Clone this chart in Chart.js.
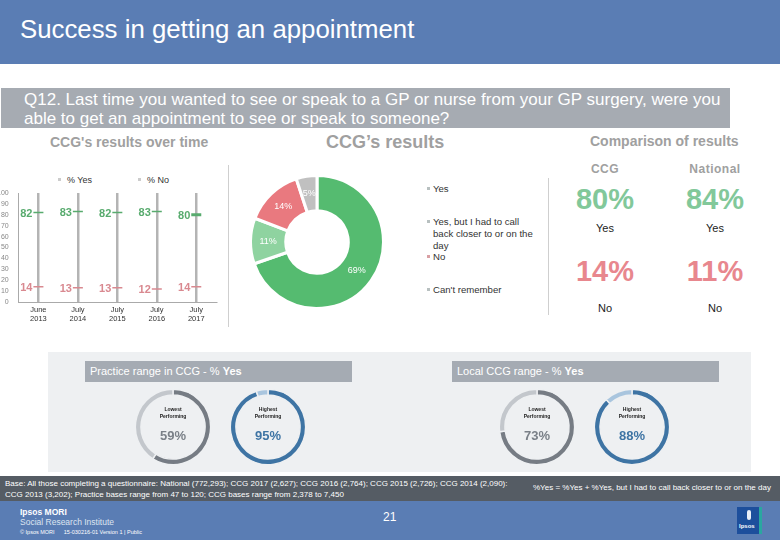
<!DOCTYPE html>
<html>
<head>
<meta charset="utf-8">
<script src="https://cdn.jsdelivr.net/npm/chart.js@4.4.1/dist/chart.umd.min.js"></script>
<style>
  body { margin: 0; width: 780px; height: 540px; position: relative; overflow: hidden; background: #fff; font-family: "Liberation Sans", Arial, sans-serif; }
  .abs { position: absolute; }
  #header { left: 0; top: 0; width: 780px; height: 64px; background: #5a7db4; }
  #title { left: 20px; top: 15px; color: #fff; font-size: 25.8px; }
  #question { left: 1px; top: 88px; width: 729px; height: 40px; background: #a6abb2; color: #fff; font-size: 17px; line-height: 19px; white-space: nowrap; }
  #question div { padding: 2px 0 0 23px; }
  .sec { color: #a0a0a0; font-weight: bold; white-space: nowrap; }
  .sep { background: #cfcfcf; width: 1px; }
  .leg { font-size: 9.6px; color: #333; line-height: 12px; }
  .leg i { position: absolute; left: -6px; top: 4px; width: 3px; height: 3px; }
  .colhead { font-size: 12px; color: #a0a0a0; font-weight: bold; letter-spacing: 0.5px; text-align: center; width: 100px; }
  .big { font-size: 29px; font-weight: bold; text-align: center; width: 100px; }
  .small { font-size: 11px; color: #222; text-align: center; width: 100px; }
  #panel { left: 48px; top: 352px; width: 703px; height: 120px; background: #eef0f2; }
  .bar { height: 21px; background: #a5abb3; color: #fff; font-size: 11px; line-height: 21px; padding-left: 5px; box-sizing: border-box; }
  .gauge { width: 80px; height: 80px; }
  .gtxt { width: 80px; text-align: center; }
  .gtxt .cap { font-size: 5px; font-weight: bold; color: #222; line-height: 7px; }
  .gtxt .pct { font-size: 13px; font-weight: bold; margin-top: 8px; }
  #base { left: 0; top: 476px; width: 780px; height: 25px; background: #555c64; }
  .foot { color: #fff; font-size: 8px; white-space: nowrap; }
  #band { left: 0; top: 501px; width: 780px; height: 39px; background: #5a7db4; }
</style>
</head>
<body>
<div id="header" class="abs"></div>
<div id="title" class="abs">Success in getting an appointment</div>
<div id="question" class="abs"><div>Q12. Last time you wanted to see or speak to a GP or nurse from your GP surgery, were you<br>able to get an appointment to see or speak to someone?</div></div>

<div class="abs sec" style="left:50px; top:134px; font-size:14px;">CCG's results over time</div>
<div class="abs sec" style="left:326px; top:132px; font-size:18px;">CCG’s results</div>
<div class="abs sec" style="left:590px; top:133px; font-size:14px;">Comparison of results</div>

<div class="abs sep" style="left:228px; top:165px; height:162px;"></div>
<div class="abs sep" style="left:548px; top:178px; height:137px;"></div>

<div id="trendLegend"></div>
<canvas id="trendChart" class="abs" width="230" height="162" style="left:-5px; top:166px; width:230px; height:162px;"></canvas>
<canvas id="donutChart" class="abs" width="136" height="136" style="left:249px; top:174px; width:136px; height:136px;"></canvas>
<div id="donutLegend"></div>
<div id="compare"></div>

<div id="panel" class="abs"></div>
<div class="abs bar" style="left:85px; top:361px; width:267px;">Practice range in CCG - % <b>Yes</b></div>
<div class="abs bar" style="left:452px; top:361px; width:267px;">Local CCG range - % <b>Yes</b></div>
<div id="gauges"></div>

<div id="base" class="abs"></div>
<div class="abs foot" style="left:5px; top:478px; line-height:11px;">Base: All those completing a questionnaire: National (772,293); CCG 2017 (2,627); CCG 2016 (2,764); CCG 2015 (2,726); CCG 2014 (2,090):<br>CCG 2013 (3,202); Practice bases range from 47 to 120; CCG bases range from 2,378 to 7,450</div>
<div class="abs foot" style="left:533px; top:483px;">%Yes = %Yes + %Yes, but I had to call back closer to or on the day</div>
<div id="band" class="abs"></div>
<div class="abs" style="left:20px; top:507px; color:#fff; font-size:8.5px; font-weight:bold;">Ipsos MORI</div>
<div class="abs" style="left:20px; top:517px; color:#dde4f0; font-size:8.5px;">Social Research Institute</div>
<div class="abs foot" style="left:20px; top:529px; font-size:5.5px;">© Ipsos MORI &nbsp;&nbsp;&nbsp;&nbsp; 15-030216-01 Version 1 | Public</div>
<div class="abs" style="left:383px; top:510px; color:#fff; font-size:12px;">21</div>
<div class="abs" style="left:737px; top:507px; width:25px; height:27px; background:#1d4f9c; border-right:3px solid #2aa7a0; box-sizing:border-box;">
  <div style="position:absolute; left:10px; top:3px; width:4px; height:10px; border-radius:2px; background:#e8eef8;"></div>
  <div style="position:absolute; left:2px; top:16px; color:#fff; font-size:6px; font-weight:bold;">Ipsos</div>
</div>

<script>
// Chart values
var waveLabels = [["June", "2013"], ["July", "2014"], ["July", "2015"], ["July", "2016"], ["July", "2017"]];
var yesOverTime = [82, 83, 82, 83, 80];
var noOverTime = [14, 13, 13, 12, 14];

var donutLabels = ["Yes", "Yes, but I had to call back closer to or on the day", "No", "Can't remember"];
var donutValues = [69, 11, 14, 5];

var compareColumns = ["CCG", "National"];
var compareYes = [80, 84];
var compareNo = [14, 11];

var practiceRange = [59, 95];
var localRange = [73, 88];

var GREEN = "#58ab6e";
var PINK = "#d98990";
var donutColours = ["#55bb70", "#8fd3a0", "#e9797f", "#c0c0c0"];

// Value labels to the left of each marker
var pointLabels = {
    id: "pointLabels",
    afterDatasetsDraw: function (chart) {
        var ctx = chart.ctx;
        ctx.save();
        ctx.font = "bold 11px 'Liberation Sans', Arial";
        ctx.textAlign = "right";
        ctx.textBaseline = "middle";
        chart.data.datasets.forEach(function (ds, i) {
            ctx.fillStyle = ds.borderColor;
            chart.getDatasetMeta(i).data.forEach(function (pt, j) {
                ctx.fillText(ds.data[j], pt.x - 6, pt.y + 1);
            });
        });
        ctx.restore();
    }
};

// Percent labels inside donut slices
var sliceLabels = {
    id: "sliceLabels",
    afterDatasetsDraw: function (chart) {
        var ctx = chart.ctx;
        ctx.save();
        ctx.font = "9px 'Liberation Sans', Arial";
        ctx.fillStyle = "#fff";
        ctx.textAlign = "center";
        ctx.textBaseline = "middle";
        chart.getDatasetMeta(0).data.forEach(function (arc, i) {
            var p = arc.tooltipPosition();
            ctx.fillText(chart.data.datasets[0].data[i] + "%", p.x, p.y);
        });
        ctx.restore();
    }
};

function initializeTrendChart() {
    var ctx = document.getElementById("trendChart").getContext("2d");
    var chart = new Chart(ctx, {
        type: "line",
        data: {
            labels: waveLabels,
            datasets: [
                { label: "% Yes", data: yesOverTime, borderColor: GREEN, backgroundColor: GREEN, showLine: false,
                  pointStyle: "line", pointRadius: 5, pointBorderWidth: [1.5, 1.5, 1.5, 1.5, 3] },
                { label: "% No", data: noOverTime, borderColor: PINK, backgroundColor: PINK, showLine: false,
                  pointStyle: "line", pointRadius: 5, pointBorderWidth: 1.5 }
            ]
        },
        options: {
            responsive: false,
            animation: false,
            layout: { padding: { left: 0, right: 9, top: 27, bottom: 2 } },
            plugins: { tooltip: { enabled: false }, legend: { display: false } },
            scales: {
                y: {
                    min: 0, max: 100,
                    ticks: { stepSize: 10, autoSkip: false, color: "#888", font: { size: 7 }, padding: 2 },
                    grid: { display: false },
                    border: { color: "#aaa" }
                },
                x: {
                    offset: true,
                    ticks: { color: "#333", font: { size: 7.5 }, maxRotation: 0, padding: 3 },
                    grid: { color: "#b4b4b4", lineWidth: 2.5, offset: false, drawTicks: false },
                    border: { color: "#aaa" }
                }
            }
        },
        plugins: [pointLabels]
    });

    // small legend above the plot, built from the dataset labels
    var lefts = [67, 147];
    var html = "";
    chart.data.datasets.forEach(function (ds, i) {
        html += '<div class="abs leg" style="left:' + lefts[i] + 'px; top:174px; font-size:9px; white-space:nowrap;"><i style="background:#ccc; left:-9px;"></i>' + ds.label + "</div>";
    });
    document.getElementById("trendLegend").innerHTML = html;
}

function initializeDonut() {
    var ctx = document.getElementById("donutChart").getContext("2d");
    new Chart(ctx, {
        type: "doughnut",
        data: {
            labels: donutLabels,
            datasets: [{ data: donutValues, backgroundColor: donutColours, borderColor: "#fff", borderWidth: 3 }]
        },
        options: {
            responsive: false,
            animation: false,
            cutout: "47%",
            plugins: { legend: { display: false }, tooltip: { enabled: false } }
        },
        plugins: [sliceLabels]
    });

    // legend beside the donut
    var tops = [183, 216, 251, 284];
    var html = "";
    donutLabels.forEach(function (label, i) {
        html += '<div class="abs leg" style="left:433px; top:' + tops[i] + 'px; width:108px;"><i style="background:' +
            (i === 2 ? "#d9a0a4" : "#b8c0c0") + '"></i>' + label + "</div>";
    });
    document.getElementById("donutLegend").innerHTML = html;
}

function buildComparison() {
    var centres = [605, 715];
    var html = "";
    compareColumns.forEach(function (col, i) {
        var left = centres[i] - 50;
        html += '<div class="abs colhead" style="left:' + left + 'px; top:162px;">' + col + "</div>";
        html += '<div class="abs big" style="left:' + left + 'px; top:183px; color:#82c89a;">' + compareYes[i] + "%</div>";
        html += '<div class="abs small" style="left:' + left + 'px; top:222px;">Yes</div>';
        html += '<div class="abs big" style="left:' + left + 'px; top:255px; color:#e8878e;">' + compareNo[i] + "%</div>";
        html += '<div class="abs small" style="left:' + left + 'px; top:302px;">No</div>';
    });
    document.getElementById("compare").innerHTML = html;
}

function buildGauges() {
    var gauges = [
        { value: practiceRange[0], cx: 173, dark: "#767c84", light: "#c3c7cc", caption: ["Lowest", "Performing"] },
        { value: practiceRange[1], cx: 268, dark: "#3e74a4", light: "#a9c5de", caption: ["Highest", "Performing"] },
        { value: localRange[0], cx: 537, dark: "#767c84", light: "#c3c7cc", caption: ["Lowest", "Performing"] },
        { value: localRange[1], cx: 632, dark: "#3e74a4", light: "#a9c5de", caption: ["Highest", "Performing"] }
    ];
    var holder = document.getElementById("gauges");
    gauges.forEach(function (g, i) {
        var canvas = document.createElement("canvas");
        canvas.className = "abs gauge";
        canvas.style.left = (g.cx - 40) + "px";
        canvas.style.top = "387px";
        canvas.width = 80;
        canvas.height = 80;
        holder.appendChild(canvas);

        new Chart(canvas.getContext("2d"), {
            type: "doughnut",
            data: {
                datasets: [{ data: [g.value, 100 - g.value], backgroundColor: [g.dark, g.light], borderColor: "#eef0f2", borderWidth: 1.5 }]
            },
            options: {
                responsive: false,
                animation: false,
                cutout: "85%",
                radius: "96%",
                plugins: { legend: { display: false }, tooltip: { enabled: false } }
            }
        });

        var txt = document.createElement("div");
        txt.className = "abs gtxt";
        txt.style.left = (g.cx - 40) + "px";
        txt.style.top = "406px";
        txt.innerHTML = '<div class="cap">' + g.caption[0] + "<br>" + g.caption[1] + '</div><div class="pct" style="color:' +
            (g.dark === "#767c84" ? "#7a8088" : "#3e74a4") + '">' + g.value + "%</div>";
        holder.appendChild(txt);
    });
}

document.addEventListener("DOMContentLoaded", function () {
    if (typeof Chart === "undefined") {
        console.error("Chart.js failed to load");
        return;
    }
    initializeTrendChart();
    initializeDonut();
    buildComparison();
    buildGauges();
});
</script>
</body>
</html>
